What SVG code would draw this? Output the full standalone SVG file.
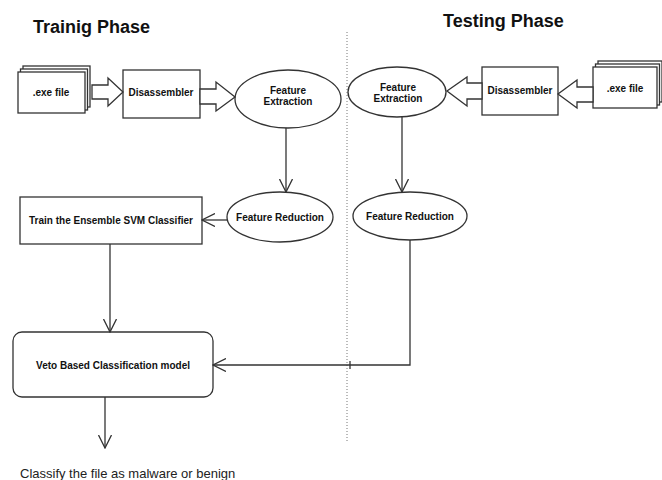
<svg xmlns="http://www.w3.org/2000/svg" width="662" height="480" viewBox="0 0 662 480">
<style>
.t{font-family:"Liberation Sans",Arial,sans-serif;font-weight:bold;font-size:10px;fill:#111;text-anchor:middle;dominant-baseline:central}
.h{font-family:"Liberation Sans",Arial,sans-serif;font-weight:bold;font-size:18px;fill:#111}
.s{fill:#fff;stroke:#333;stroke-width:1.3}
.c{fill:none;stroke:#333;stroke-width:1.3}
</style>
<defs>
<marker id="v" viewBox="0 0 14 14" refX="13" refY="7" markerWidth="14" markerHeight="14" markerUnits="userSpaceOnUse" orient="auto">
<path d="M0,0.5 L13,7 L0,13.5" fill="none" stroke="#333" stroke-width="1.3"/>
</marker>
</defs>
<rect width="662" height="480" fill="#fff"/>
<text class="h" x="33" y="33">Trainig Phase</text>
<text class="h" x="443" y="27">Testing Phase</text>
<line x1="347" y1="32" x2="347" y2="443" stroke="#777" stroke-width="1" stroke-dasharray="1,2"/>
<g id="exe-train">
<rect class="s" x="23" y="66" width="67" height="41"/>
<rect class="s" x="20.5" y="69" width="67" height="41"/>
<rect class="s" x="18" y="72" width="67" height="41"/>
<text class="t" x="51" y="92">.exe file</text>
</g>
<g id="dis-train">
<rect class="s" x="123" y="70" width="77" height="48"/>
<text class="t" x="161" y="92">Disassembler</text>
</g>
<g id="fe-train">
<ellipse class="s" cx="288" cy="99" rx="53" ry="29"/>
<text class="t" x="288" y="90">Feature</text>
<text class="t" x="288" y="101">Extraction</text>
</g>
<g id="fr-train">
<ellipse class="s" cx="280" cy="217" rx="53" ry="25"/>
<text class="t" x="280" y="217">Feature Reduction</text>
</g>
<g id="svm">
<rect class="s" x="20" y="197" width="182" height="47"/>
<text class="t" x="111" y="220">Train the Ensemble SVM Classifier</text>
</g>
<g id="veto">
<rect class="s" x="13" y="332" width="200" height="65" rx="9"/>
<text class="t" x="113" y="365">Veto Based Classification model</text>
</g>
<g id="exe-test">
<rect class="s" x="598" y="61" width="64" height="41"/>
<rect class="s" x="595.5" y="64" width="64" height="41"/>
<rect class="s" x="593" y="67" width="64" height="41"/>
<text class="t" x="625" y="88">.exe file</text>
</g>
<g id="dis-test">
<rect class="s" x="482" y="67" width="76" height="48"/>
<text class="t" x="520" y="90">Disassembler</text>
</g>
<g id="fe-test">
<ellipse class="s" cx="397" cy="92" rx="49" ry="25"/>
<text class="t" x="398" y="87">Feature</text>
<text class="t" x="398" y="98">Extraction</text>
</g>
<g id="fr-test">
<ellipse class="s" cx="410" cy="216" rx="57" ry="24"/>
<text class="t" x="410" y="216">Feature Reduction</text>
</g>
<text x="20" y="473" font-family="'Liberation Sans',Arial,sans-serif" font-size="13" fill="#222" dominant-baseline="central">Classify the file as malware or benign</text>
<g id="connectors">
<polygon class="s" points="92,85 108,85 108,78 123,92 108,106 108,99 92,99"/>
<polygon class="s" points="200,89 216,89 216,82 235,97 216,111 216,104 200,104"/>
<polygon class="s" points="482,83 467,83 467,77 447,91 467,106 467,99 482,99"/>
<polygon class="s" points="593,87 577,87 577,80 558,94 577,108 577,102 593,102"/>
<line class="c" x1="286" y1="128" x2="286" y2="192" marker-end="url(#v)"/>
<line class="c" x1="227" y1="220" x2="202" y2="220" marker-end="url(#v)"/>
<line class="c" x1="110" y1="244" x2="110" y2="332" marker-end="url(#v)"/>
<line class="c" x1="105" y1="397" x2="105" y2="448" marker-end="url(#v)"/>
<line class="c" x1="402" y1="117" x2="402" y2="192" marker-end="url(#v)"/>
<polyline class="c" points="410,240 410,365 213,365" marker-end="url(#v)"/>
<line class="c" x1="350" y1="361" x2="350" y2="369"/>
</g>
</svg>
